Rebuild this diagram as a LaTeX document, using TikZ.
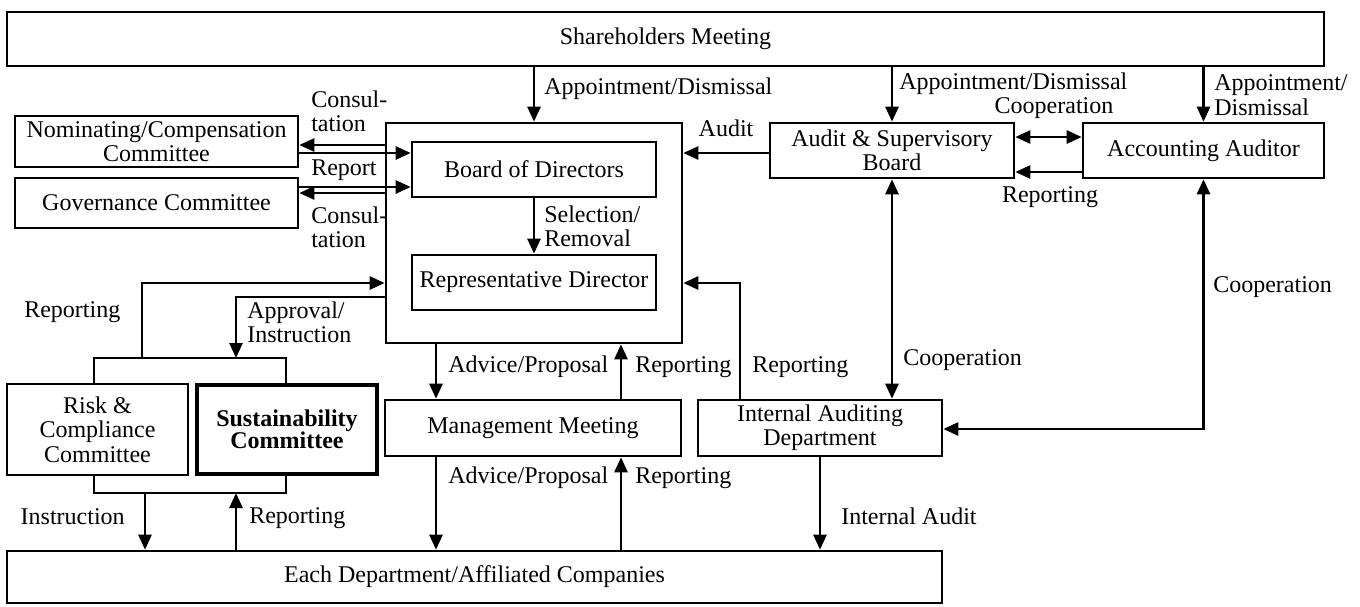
\documentclass[tikz,border=0pt]{standalone}
\usepackage{fontspec}
\setmainfont{Liberation Serif}
\usetikzlibrary{arrows.meta}
\begin{document}
\begin{tikzpicture}[x=0.5pt, y=-0.5pt, line width=1.3pt, line join=miter,
		font=\fontsize{12}{12.2}\selectfont, >={Triangle[length=7.5pt,width=6.5pt]},
		box/.style={draw, rectangle, inner sep=0pt, align=center},
		lbl/.style={inner sep=0pt, align=left, anchor=west}]
			\useasboundingbox (0,0) rectangle (1360,606);
			% boxes
			\node[box, minimum width=658.5pt, minimum height=27pt] (sh) at (665.5,39) {Shareholders Meeting};
			\node[box, minimum width=148pt, minimum height=110pt] (bodout) at (534,233) {};
			\node[box, minimum width=122pt, minimum height=27.5pt] (bod) at (534,169.5) {Board of Directors};
			\node[box, minimum width=122pt, minimum height=27.5pt] (rep) at (534,282.5) {Representative Director};
			\node[box, minimum width=141.5pt, minimum height=25.5pt] (nom) at (156.5,141.5) {Nominating/Compensation\\Committee};
			\node[box, minimum width=141.5pt, minimum height=25pt] (gov) at (156.5,203) {Governance Committee};
			\node[box, minimum width=90.5pt, minimum height=45.5pt] (risk) at (97.5,429.5) {Risk \&\\Compliance\\Committee};
			\node[box, line width=2.4pt, minimum width=90pt, minimum height=44.5pt, font=\fontsize{12}{11.2}\selectfont\bfseries] (sus) at (287,429.5) {Sustainability\\Committee};
			\node[box, minimum width=148pt, minimum height=28pt] (mgmt) at (533,428) {Management Meeting};
			\node[box, minimum width=122pt, minimum height=28pt] (iad) at (820,428) {Internal Auditing\\Department};
			\node[box, minimum width=467.5pt, minimum height=26pt] (dept) at (474.5,577) {Each Department/Affiliated Companies};
			\node[box, minimum width=122pt, minimum height=27.5pt] (asb) at (892,150.5) {Audit \& Supervisory\\Board};
			\node[box, minimum width=120.5pt, minimum height=27.5pt] (acc) at (1203.5,150.5) {Accounting Auditor};
			% shareholders
			\draw[->] (sh.south -| bod.north) -- (bodout.north);
			\draw[->] (sh.south -| asb.north) -- (asb.north);
			\draw[->] (sh.south -| acc.north) -- (acc.north);
			\node[lbl] (lappbod) at (543,89) {Appointment/Dismissal};
			\node[lbl] (lappasb) at (898,84) {Appointment/Dismissal};
			\node[lbl] (lappacc) at (1213,95) {Appointment/\\Dismissal};
			% committees and board
			\draw[->] (bodout.west |- 0,145) -- (nom.east |- 0,145);
			\draw[->] (nom.east |- 0,153) -- (bod.west |- 0,153);
			\draw[->] (gov.east |- 0,187) -- (bod.west |- 0,187);
			\draw[->] (bodout.west |- 0,193) -- (gov.east |- 0,193);
			\draw[->] (bod.south) -- (rep.north);
			\node[lbl] (lcon1) at (310,111) {Consul-\\tation};
			\node[lbl] (lreport) at (310,170) {Report};
			\node[lbl] (lcon2) at (310,227) {Consul-\\tation};
			\node[lbl] (lsel) at (543,226) {Selection/\\Removal};
			% auditors
			\draw[<->] (asb.east |- 0,137) -- (acc.west |- 0,137);
			\draw[->] (acc.west |- 0,172) -- (asb.east |- 0,172);
			\draw[->] (asb.west |- 0,153) -- (bodout.east |- 0,153);
			\draw[<->] (asb.south) -- (asb.south |- iad.north);
			\draw[<->] (iad.east |- 0,429) -| (acc.south);
			\draw[->] (iad.north -| 740,0) |- (bodout.east |- 0,283);
			\draw[->] (iad.south) -- (dept.north -| iad.south);
			\node[anchor=center, inner sep=0pt] (lcooptop) at (1054,108) {Cooperation};
			\node[anchor=center, inner sep=0pt] (lreptop) at (1050,197) {Reporting};
			\node[anchor=center, inner sep=0pt] (laudit) at (726,128) {Audit};
			\node[lbl] (lcoopmid) at (902,360) {Cooperation};
			\node[lbl] (lcoopright) at (1212,287) {Cooperation};
			\node[lbl] (lrepiad) at (751,367) {Reporting};
			\node[lbl] (lintaudit) at (840,516) {Internal Audit};
			% management
			\draw[->] (bodout.south -| 436,0) -- (mgmt.north -| 436,0);
			\draw[->] (mgmt.north -| 621,0) -- (bodout.south -| 621,0);
			\draw[->] (mgmt.south -| 436,0) -- (dept.north -| 436,0);
			\draw[->] (dept.north -| 621,0) -- (mgmt.south -| 621,0);
			\node[lbl] (ladv1) at (447,367) {Advice/Proposal};
			\node[lbl] (lrep1) at (634,367) {Reporting};
			\node[lbl] (ladv2) at (447,478) {Advice/Proposal};
			\node[lbl] (lrep2) at (634,478) {Reporting};
			% risk and sustainability
			\draw (risk.north -| 94,0) |- (286,358) -- (sus.north -| 286,0);
			\draw (risk.south -| 94,0) |- (286,493) -- (sus.south -| 286,0);
			\coordinate (jtop) at (142,358);
			\coordinate (jappr) at (236,358);
			\coordinate (jinstr) at (145,493);
			\coordinate (jrep) at (236,493);
			\draw[->] (jtop) |- (bodout.west |- 0,283);
			\draw[->] (bodout.west |- 0,297) -| (jappr);
			\draw[->] (jinstr) -- (dept.north -| jinstr);
			\draw[->] (dept.north -| jrep) -- (jrep);
			\node[lbl] (lrepleft) at (23,312) {Reporting};
			\node[lbl] (lappr) at (246,322) {Approval/\\Instruction};
			\node[lbl, anchor=east] (linstr) at (126,517) {Instruction};
			\node[lbl] (lrepbot) at (248,518) {Reporting};
		\end{tikzpicture}
\end{document}
